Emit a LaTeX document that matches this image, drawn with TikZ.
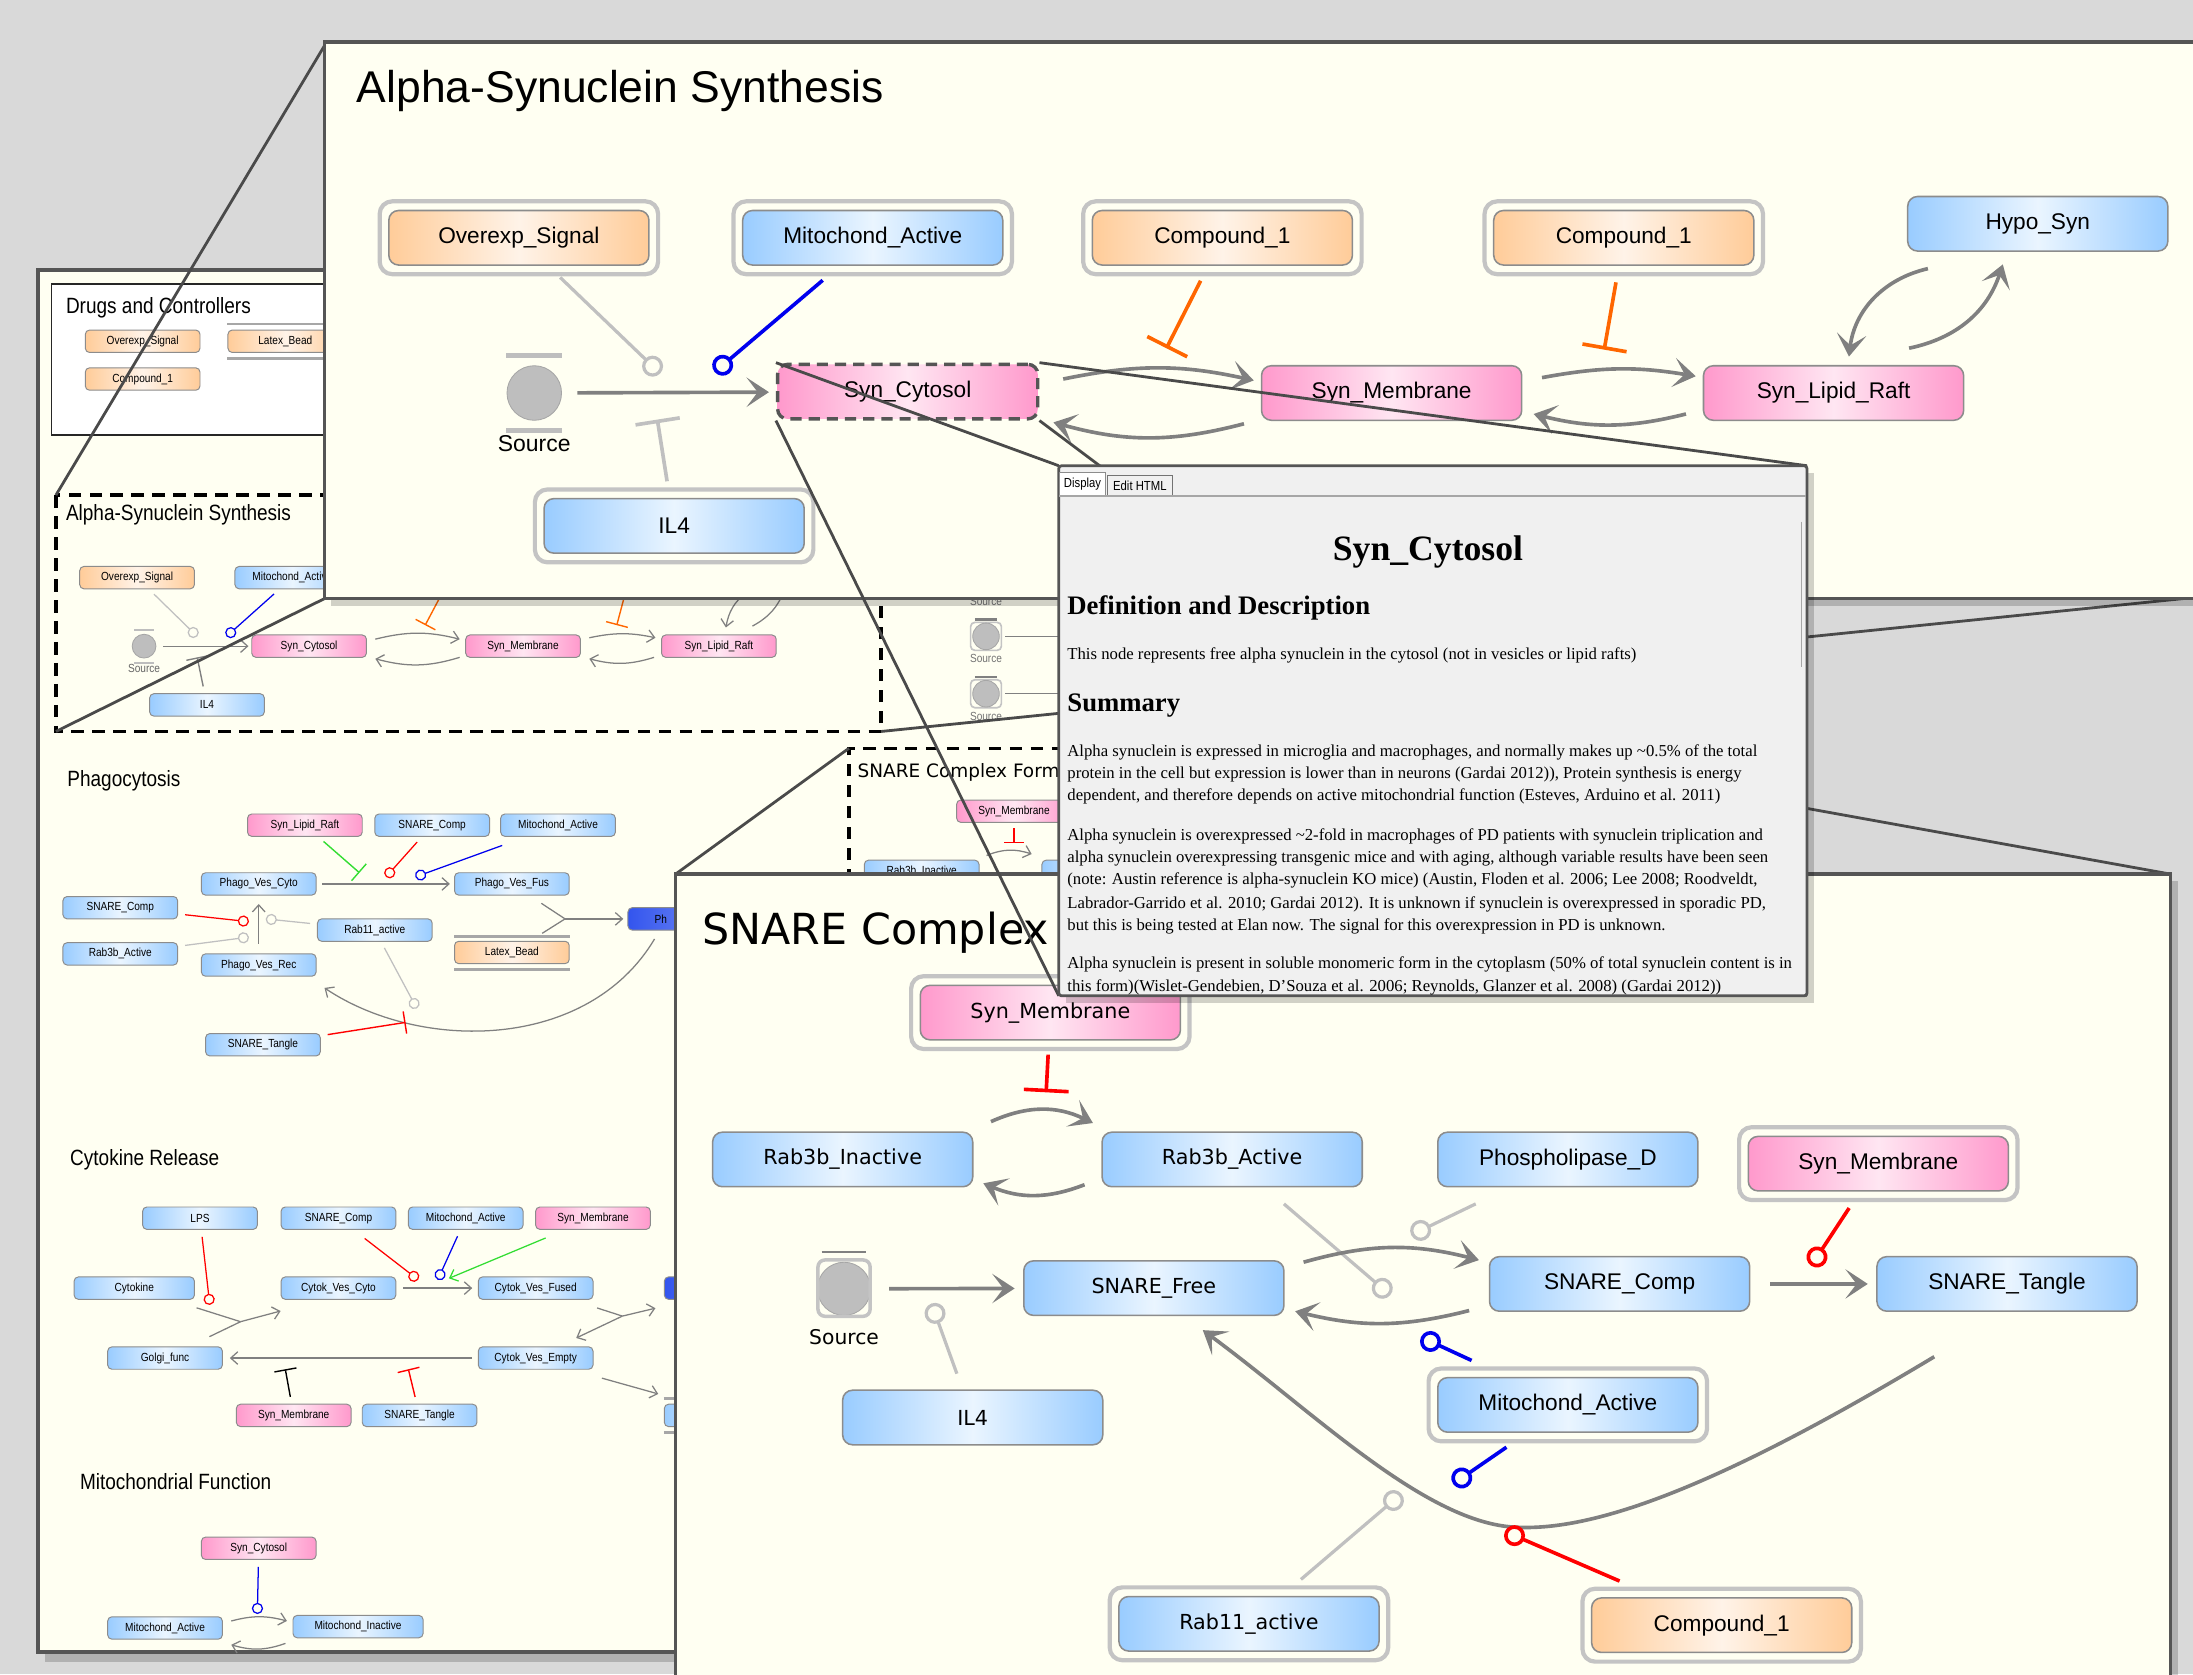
\documentclass[tikz,border=0pt]{standalone}
\usepackage{fontspec}
\setmainfont{Liberation Sans}
\newfontfamily\vfont{DejaVu Sans}
\newfontfamily\nfont{Liberation Sans}[FakeStretch=0.86]
\newfontfamily\rfont{Liberation Serif}
\usetikzlibrary{arrows.meta}

\definecolor{bgc}{HTML}{D9D9D9}
\definecolor{panelc}{HTML}{FFFFF2}
\definecolor{edgec}{HTML}{555555}
\definecolor{bluea}{HTML}{99CCFF}
\definecolor{blueb}{HTML}{EAF5FF}
\definecolor{pinka}{HTML}{FF99CC}
\definecolor{pinkb}{HTML}{FFE6F2}
\definecolor{orga}{HTML}{FFCC99}
\definecolor{orgb}{HTML}{FFF3E8}
\definecolor{darkb}{HTML}{3355EE}
\definecolor{spc}{HTML}{8C8C8C}
\definecolor{frc}{HTML}{C4C4C4}
\definecolor{rxc}{HTML}{808080}
\definecolor{modc}{HTML}{C0C0C0}
\definecolor{inhc}{HTML}{FF6600}
\definecolor{modb}{HTML}{0000EE}
\definecolor{modr}{HTML}{FF0000}
\definecolor{modg}{HTML}{33DD33}
\definecolor{srcc}{HTML}{BEBEBE}
\definecolor{popc}{HTML}{F0F0F0}
\definecolor{zlc}{HTML}{4A4A4A}

\tikzset{
  panel/.style={fill=panelc, draw=edgec, line width=2.5pt},
  shad/.style={fill=black, opacity=0.18},
  big/.style={draw=spc, line width=1.1pt, rounded corners=7pt, inner sep=0pt,
    minimum width=186pt, minimum height=39pt, font=\fontsize{16.2}{18}\selectfont},
  vbig/.style={big, font=\vfont\fontsize{14.8}{17}\selectfont},
  sm/.style={draw=spc, line width=0.7pt, rounded corners=3pt, inner sep=0pt,
    minimum width=82pt, minimum height=16pt, font=\nfont\fontsize{8.4}{9}\selectfont},
  bl/.style={left color=bluea, right color=bluea, middle color=blueb},
  pk/.style={left color=pinka, right color=pinka, middle color=pinkb},
  og/.style={left color=orga, right color=orga, middle color=orgb},
  dk/.style={left color=darkb, right color=darkb!75, middle color=darkb!80!white},
  frm/.style={draw=frc, line width=3pt, rounded corners=9pt},
  barl/.style={draw=frc!85!black, line width=2pt},
  ttl/.style={anchor=base west, inner sep=0pt, font=\nfont\fontsize{15.8}{18}\selectfont},
  rx/.style={draw=rxc, line width=2.6pt, -{Stealth[length=16pt, width=21pt, inset=8pt]}},
  srx/.style={draw=rxc, line width=0.9pt, -{Straight Barb[length=5pt, width=9pt]}},
  sln/.style={draw=rxc, line width=0.9pt},
  mod/.style={line width=2.3pt, shorten <=12pt, -{Circle[open, length=15pt, width=15pt]}},
  inh/.style={line width=2.6pt, shorten <=12pt, -{Bar[width=32pt]}},
  smod/.style={line width=0.9pt, shorten <=5pt, -{Circle[open, length=8pt, width=8pt]}},
  sinh/.style={line width=1pt, shorten <=5pt, -{Bar[width=16pt]}},
  zl/.style={draw=zlc, line width=2pt},
  srcn/.style={circle, fill=srcc, draw=black!35, line width=0.6pt, inner sep=0pt},
  lbl/.style={inner sep=0pt},
  ptxt/.style={anchor=mid west, inner sep=0pt, font=\rfont\fontsize{11.95}{13}\selectfont},
  phd/.style={anchor=mid west, inner sep=0pt, font=\rfont\bfseries\fontsize{19.1}{22}\selectfont},
}

\begin{document}
\begin{tikzpicture}[x=1pt, y=-1pt]
\useasboundingbox (0,0) rectangle (1568,1197);
\fill[bgc] (0,0) rectangle (1568,1197);

% back panel: the whole small map
\fill[shad] (32,198) rectangle (1205,1188);
\draw[panel] (27,193) rectangle (1200,1181);

\draw[fill=white, draw=black!85, line width=1pt] (37,203) rectangle (240,311);
\node[ttl] (dtl) at (47,224) {Drugs and Controllers};
\node[sm,og] (dov) at (102,244) {Overexp\_Signal};
\node[sm,og] (dlx) at (204,244) {Latex\_Bead};
\node[sm,og] (dcp) at (102,271) {Compound\_1};
\draw[barl] ([shift={(0,-4)}]dlx.north west) -- ([shift={(0,-4)}]dlx.north east);
\draw[barl] ([shift={(0,4)}]dlx.south west) -- ([shift={(0,4)}]dlx.south east);

% small alpha-synuclein map
\draw[black, line width=2.5pt, dash pattern=on 9pt off 6pt] (40,354) rectangle (630,523);
\node[ttl] (atl) at (47,372) {Alpha-Synuclein Synthesis};
\node[sm,og] (aov) at (98,413) {Overexp\_Signal};
\node[sm,bl] (ami) at (209,413) {Mitochond\_Active};
\node[sm,og] (ac1) at (322,413) {};
\node[sm,og] (ac2) at (450,413) {};
\node[sm,bl] (ahy) at (581,409) {};
\node[sm,pk] (acy) at (221,462) {Syn\_Cytosol};
\node[sm,pk] (ame) at (374,462) {Syn\_Membrane};
\node[sm,pk] (ali) at (514,462) {Syn\_Lipid\_Raft};
\node[sm,bl] (ail) at (148,504) {IL4};
\node[srcn, minimum size=17pt] (asr) at (103,462) {};
\draw[draw=srcc, line width=1.5pt] ([shift={(-7,-3)}]asr.north) -- ([shift={(7,-3)}]asr.north);
\draw[draw=srcc, line width=1.5pt] ([shift={(-7,3)}]asr.south) -- ([shift={(7,3)}]asr.south);
\node[lbl, font=\nfont\fontsize{8.4}{9}\selectfont, text=black!60] (asl) at (103,478) {Source};
\coordinate (am1) at (141,455);
\coordinate (am2) at (162,455);
\coordinate (am3) at (141,470);
\coordinate (at1) at (304,447);
\coordinate (at2) at (441,447);
\draw[smod, draw=modc] (aov) -- (am1);
\draw[smod, draw=modb] (ami) -- (am2);
\draw[sinh, draw=rxc] (ail) -- (am3);
\draw[sinh, draw=inhc] (ac1) -- (at1);
\draw[sinh, draw=inhc] (ac2) -- (at2);
\draw[srx, shorten <=5pt, shorten >=2pt] (asr) -- (acy);
\draw[srx] ([shift={(6,-5)}]acy.east) to[bend left=14] ([shift={(-4,-5)}]ame.west);
\draw[srx] ([shift={(-4,8)}]ame.west) to[bend left=16] ([shift={(6,9)}]acy.east);
\draw[srx] ([shift={(6,-6)}]ame.east) to[bend left=12] ([shift={(-4,-6)}]ali.west);
\draw[srx] ([shift={(-5,8)}]ali.west) to[bend left=16] ([shift={(6,9)}]ame.east);
\draw[srx] ([shift={(-6,6)}]ahy.south west) to[bend right=20] ([shift={(5,-5)}]ali.north);
\draw[srx] ([shift={(24,-6)}]ali.north) to[bend right=20] ([shift={(-20,4)}]ahy.south);

% phagocytosis
\node[ttl] (ptl) at (48,562) {Phagocytosis};
\node[sm,pk] (pli) at (218,590) {Syn\_Lipid\_Raft};
\node[sm,bl] (psc) at (309,590) {SNARE\_Comp};
\node[sm,bl] (pmi) at (399,590) {Mitochond\_Active};
\node[sm,bl] (pvc) at (185,632) {Phago\_Ves\_Cyto};
\node[sm,bl] (pvf) at (366,632) {Phago\_Ves\_Fus};
\node[sm,bl] (psk) at (86,649) {SNARE\_Comp};
\node[sm,bl] (prb) at (86,682) {Rab3b\_Active};
\node[sm,bl] (pra) at (268,665) {Rab11\_active};
\node[sm,bl] (pvr) at (185,690) {Phago\_Ves\_Rec};
\node[sm,og] (plx) at (366,681) {Latex\_Bead};
\node[sm,dk, text width=82pt, align=left] (pph) at (490,657) {\hspace*{19pt}Ph};
\node[sm,bl] (pst) at (188,747) {SNARE\_Tangle};
\draw[barl] ([shift={(0,-3)}]plx.north west) -- ([shift={(0,-3)}]plx.north east);
\draw[barl] ([shift={(0,4)}]plx.south west) -- ([shift={(0,4)}]plx.south east);
\coordinate (pm1) at (257,624);
\coordinate (pm2) at (276,627);
\coordinate (pm3) at (297,627);
\coordinate (pm4) at (178,659);
\coordinate (pm5) at (178,670);
\coordinate (pm6) at (190,657);
\coordinate (pm7) at (298,721);
\coordinate (pm8) at (290,731);
\coordinate (pj) at (404,657);
\draw[srx, shorten <=4pt, shorten >=3pt] (pvc) -- (pvf);
\draw[sinh, draw=modg] (pli) -- (pm1);
\draw[smod, draw=modr] (psc) -- (pm2);
\draw[smod, draw=modb, shorten <=18pt] (pmi) -- (pm3);
\draw[srx, shorten <=7pt, shorten >=6pt] (pvr) -- (pvc);
\draw[smod, draw=modr] (psk) -- (pm4);
\draw[smod, draw=modc] (prb) -- (pm5);
\draw[smod, draw=modc] (pra) -- (pm6);
\draw[sln, shorten <=10pt] (pvf) -- (pj);
\draw[sln, shorten <=10pt] (plx) -- (pj);
\draw[srx, shorten >=3pt] (pj) -- (pph);
\draw[srx] ([shift={(-22,6)}]pph.south) .. controls (420,752) and (300,752) .. ([shift={(47,8)}]pvr.south);
\draw[smod, draw=modc] (pra) -- (pm7);
\draw[sinh, draw=modr] (pst) -- (pm8);

% cytokine release
\node[ttl] (ctl) at (50,833) {Cytokine Release};
\node[sm,bl] (clp) at (143,871) {LPS};
\node[sm,bl] (csc) at (242,871) {SNARE\_Comp};
\node[sm,bl] (cmi) at (333,871) {Mitochond\_Active};
\node[sm,pk] (csm) at (424,871) {Syn\_Membrane};
\node[sm,bl, minimum width=86pt] (cck) at (96,921) {Cytokine};
\node[sm,bl] (cvc) at (242,921) {Cytok\_Ves\_Cyto};
\node[sm,bl] (cvf) at (383,921) {Cytok\_Ves\_Fused};
\node[sm,dk] (cd1) at (516,921) {};
\node[sm,bl] (cgo) at (118,971) {Golgi\_func};
\node[sm,bl] (cve) at (383,971) {Cytok\_Ves\_Empty};
\node[sm,pk] (csn) at (210,1012) {Syn\_Membrane};
\node[sm,bl] (cst) at (300,1012) {SNARE\_Tangle};
\node[sm,bl] (cd2) at (516,1012) {};
\draw[barl] ([shift={(0,-4)}]cd2.north west) -- ([shift={(0,-4)}]cd2.north east);
\draw[barl] ([shift={(0,4)}]cd2.south west) -- ([shift={(0,4)}]cd2.south east);
\coordinate (cm1) at (299,915);
\coordinate (cm2) at (313,915);
\coordinate (cm3) at (321,914);
\coordinate (cm4) at (150,933);
\coordinate (cj1) at (172,945);
\coordinate (cj2) at (445,941);
\coordinate (ct1) at (204,979);
\coordinate (ct2) at (292,979);
\draw[srx, shorten <=5pt, shorten >=4pt] (cvc) -- (cvf);
\draw[smod, draw=modr, shorten <=10pt] (csc) -- (cm1);
\draw[smod, draw=modb] (cmi) -- (cm2);
\draw[srx, draw=modg, shorten <=15pt] (csm) -- (cm3);
\draw[smod, draw=modr] (clp) -- (cm4);
\draw[sln, shorten <=19pt] (cck) -- (cj1);
\draw[sln, shorten <=16pt] (cgo) -- (cj1);
\draw[srx] (cj1) -- ([shift={(0,8)}]cvc.south west);
\draw[srx, shorten <=4pt, shorten >=5pt] (cve) -- (cgo);
\draw[sinh, draw=black] (csn) -- (ct1);
\draw[sinh, draw=modr] (cst) -- (ct2);
\draw[sln, shorten <=19pt] (cvf) -- (cj2);
\draw[srx] (cj2) -- ([shift={(-6,6)}]cd1.south west);
\draw[srx] (cj2) -- ([shift={(29,-6)}]cve.north);
\draw[srx] ([shift={(6,6)}]cve.south east) -- ([shift={(-4,-7)}]cd2.north west);

% mitochondrial function
\node[ttl] (mtl) at (57,1065) {Mitochondrial Function};
\node[sm,pk] (msc) at (185,1107) {Syn\_Cytosol};
\node[sm,bl] (mma) at (118,1164) {Mitochond\_Active};
\node[sm,bl, minimum width=93pt] (mmi) at (256,1163) {Mitochond\_Inactive};
\coordinate (mm1) at (184,1154);
\draw[smod, draw=modb] (msc) -- (mm1);
\draw[srx] ([shift={(6,-5)}]mma.east) to[bend left=15] ([shift={(-4,-4)}]mmi.west);
\draw[srx] ([shift={(-5,12)}]mmi.west) to[bend left=18] ([shift={(6,12)}]mma.east);

% middle of the small map
\node[srcn, minimum size=19pt] (xs0) at (705,413) {};
\node[lbl, font=\nfont\fontsize{8.4}{9}\selectfont, text=black!55] (xl0) at (705,430) {Source};
\foreach \s/\yy in {xs1/455, xs2/496}{
  \draw[draw=frc, line width=1.2pt, rounded corners=3pt] (694,\yy-10) rectangle (716,\yy+10);
  \node[srcn, minimum size=19pt] (\s) at (705,\yy) {};
  \draw[draw=rxc, line width=2pt] (697,\yy-12) -- (713,\yy-12);
  \node[lbl, font=\nfont\fontsize{8.4}{9}\selectfont, text=black!55] at (705,\yy+16) {Source};
}
\coordinate (xt1) at (800,455);
\coordinate (xt2) at (800,496);
\draw[srx, shorten <=4pt] (xs1) -- (xt1);
\draw[srx, shorten <=4pt] (xs2) -- (xt2);
\draw[black, line width=2.5pt, dash pattern=on 9pt off 6pt] (607,660) -- (607,535) -- (1054,535);
\node[anchor=base west, inner sep=0pt, font=\vfont\fontsize{13.2}{15}\selectfont] (xtl) at (613,556) {SNARE Complex Form};
\node[sm,pk] (xsm) at (725,580) {Syn\_Membrane};
\node[sm,bl] (xri) at (659,623) {Rab3b\_Inactive};
\node[sm,bl] (xra) at (786,623) {};
\coordinate (xm1) at (725,603);
\draw[line width=1pt, shorten <=4pt, draw=modr, -{Bar[width=14pt]}] (xsm) -- (xm1);
\draw[srx] ([shift={(5,-3)}]xri.north east) to[bend left=20] ([shift={(-7,-4)}]xra.north west);

% lines from the small map to the enlarged panels
\coordinate (z1) at (40,354);
\coordinate (z2) at (40,523);
\coordinate (z3) at (630,523);
\coordinate (z4) at (607,535);
\coordinate (z5) at (1054,535);
\coordinate (w1) at (233,31);
\coordinate (w2) at (232,428);
\coordinate (w3) at (1600,424);
\coordinate (w4) at (483,625);
\coordinate (w5) at (1552,625);
\draw[zl] (z1) -- (w1);
\draw[zl] (z2) -- (w2);
\draw[zl] (z3) -- (w3);
\draw[zl] (z4) -- (w4);
\draw[zl] (z5) -- (w5);

% enlarged alpha-synuclein synthesis panel
\fill[shad] (237,35) rectangle (1605,433);
\draw[panel] (232,30) rectangle (1600,428);
\node[anchor=base west, inner sep=0pt, font=\fontsize{31.8}{36}\selectfont] (ttl) at (255,73) {Alpha-Synuclein Synthesis};
\node[big,og] (tov) at (371,170) {Overexp\_Signal};
\node[big,bl] (tmi) at (624,170) {Mitochond\_Active};
\node[big,og] (tc1) at (874,170) {Compound\_1};
\node[big,og] (tc2) at (1161,170) {Compound\_1};
\node[big,bl] (thy) at (1457,160) {Hypo\_Syn};
\node[big,pk, draw=edgec, line width=2.4pt, dash pattern=on 8pt off 5pt] (tcy) at (649,280) {Syn\_Cytosol};
\node[big,pk] (tme) at (995,281) {Syn\_Membrane};
\node[big,pk] (tli) at (1311,281) {Syn\_Lipid\_Raft};
\node[big,bl] (til) at (482,376) {IL4};
\node[srcn, minimum size=39pt] (tsr) at (382,281) {};
\node[lbl, font=\fontsize{16.4}{18}\selectfont] (tsl) at (382,317) {Source};
\draw[draw=srcc, line width=3pt] ([shift={(-20,-7)}]tsr.north) -- ([shift={(20,-7)}]tsr.north);
\draw[draw=srcc, line width=3pt] ([shift={(-20,7)}]tsr.south) -- ([shift={(20,7)}]tsr.south);
\foreach \n in {tov,tmi,tc1,tc2,til}
  \draw[frm] ([shift={(-6,-6)}]\n.north west) rectangle ([shift={(6,6)}]\n.south east);
\coordinate (tm1) at (472,267);
\coordinate (tm2) at (511,266);
\coordinate (tt1) at (470,300);
\coordinate (tt2) at (834,249);
\coordinate (tt3) at (1147,250);
\draw[rx, shorten <=11pt, shorten >=5pt] (tsr) -- (tcy);
\draw[mod, draw=modc] (tov) -- (tm1);
\draw[mod, draw=modb, line width=2.6pt, shorten <=16pt] (tmi) -- (tm2);
\draw[inh, draw=modc] (til) -- (tt1);
\draw[inh, draw=inhc] (tc1) -- (tt2);
\draw[inh, draw=inhc] (tc2) -- (tt3);
\draw[rx] ([shift={(17,-9)}]tcy.east) to[bend left=12] ([shift={(-5,-9)}]tme.west);
\draw[rx] ([shift={(-12,22)}]tme.west) to[bend left=15] ([shift={(10,22)}]tcy.east);
\draw[rx] ([shift={(14,-11)}]tme.east) to[bend left=10] ([shift={(-5,-12)}]tli.west);
\draw[rx] ([shift={(-12,15)}]tli.west) to[bend left=14] ([shift={(8,15)}]tme.east);
\draw[rx] ([shift={(15,12)}]thy.south west) to[bend right=35] ([shift={(11,-6)}]tli.north);
\draw[rx] ([shift={(54,-12)}]tli.north) to[bend right=30] ([shift={(-25,9)}]thy.south);

% enlarged SNARE complex panel
\fill[shad] (488,630) rectangle (1557,1210);
\draw[panel] (483,625) rectangle (1552,1220);
\node[anchor=base west, inner sep=0pt, font=\vfont\fontsize{30.6}{35}\selectfont] (stl) at (502,675) {SNARE Complex};
\node[vbig,pk] (ssm) at (751,724) {Syn\_Membrane};
\node[vbig,bl] (sri) at (602.5,829) {Rab3b\_Inactive};
\node[vbig,bl] (sra) at (881,829) {Rab3b\_Active};
\node[big,bl] (spl) at (1121,829) {Phospholipase\_D};
\node[big,pk] (ssn) at (1343,832) {Syn\_Membrane};
\node[vbig,bl] (sfr) at (825,921) {SNARE\_Free};
\node[big,bl] (scp) at (1158,918) {SNARE\_Comp};
\node[big,bl] (stg) at (1435,918) {SNARE\_Tangle};
\node[big,bl] (smi) at (1121,1004.5) {Mitochond\_Active};
\node[vbig,bl] (sil) at (695.5,1013.5) {IL4};
\node[vbig,bl] (sr11) at (893,1161) {Rab11\_active};
\node[big,og] (sc1) at (1231,1162) {Compound\_1};
\node[srcn, minimum size=38pt] (ssr) at (603.5,921.5) {};
\node[lbl, font=\vfont\fontsize{14.5}{16}\selectfont] (ssl) at (603.5,956) {Source};
\draw[frm, line width=2.5pt, rounded corners=5pt] ([shift={(-5,-7)}]ssr.north west) rectangle ([shift={(5,6)}]ssr.south east);
\draw[draw=rxc, line width=2pt] ([shift={(-16,-7)}]ssr.north) -- ([shift={(16,-7)}]ssr.north);
\foreach \n in {ssm,ssn,smi,sr11,sc1}
  \draw[frm] ([shift={(-6,-6)}]\n.north west) rectangle ([shift={(6,6)}]\n.south east);
\coordinate (st1) at (748,781);
\coordinate (sm1) at (666,932);
\coordinate (sm2) at (994,926);
\coordinate (sm3) at (1009,883);
\coordinate (sm4) at (1016,956);
\coordinate (sm5) at (1295,905);
\coordinate (sm6) at (1076,1095);
\coordinate (sm7) at (1039,1061);
\coordinate (sm8) at (1002,1068);
\draw[inh, draw=modr, shorten <=10pt] (ssm) -- (st1);
\draw[rx] ([shift={(12.5,-7)}]sri.north east) to[bend left=25] ([shift={(-6,-6)}]sra.north west);
\draw[rx] ([shift={(-12,-2)}]sra.south west) to[bend left=22] ([shift={(7,-3)}]sri.south east);
\draw[rx, shorten <=13pt, shorten >=6pt] (ssr) -- (sfr);
\draw[mod, draw=modc] (sil) -- (sm1);
\draw[mod, draw=modc, shorten <=18pt] (sra) -- (sm2);
\draw[mod, draw=modc, shorten <=27pt] (spl) -- (sm3);
\draw[rx] ([shift={(13.5,1.5)}]sfr.north east) to[bend left=15] ([shift={(-7,3)}]scp.north west);
\draw[rx] ([shift={(-14,-1)}]scp.south west) to[bend left=14] ([shift={(7.5,-3.5)}]sfr.south east);
\draw[mod, draw=modb, line width=2.6pt, shorten <=28pt] (smi) -- (sm4);
\draw[mod, draw=modr, line width=2.6pt, shorten <=14pt] (ssn) -- (sm5);
\draw[rx, shorten <=14pt, shorten >=6pt] (scp) -- (stg);
\draw[rx] ([shift={(-52,32)}]stg.south) .. controls (1250,1050) and (1150,1095) .. (1085,1092)
  .. controls (1020,1090) and (940,1010) .. ([shift={(35,10)}]sfr.south);
\draw[mod, draw=modr, line width=2.6pt, shorten <=29pt] (sc1) -- (sm6);
\draw[mod, draw=modb, line width=2.6pt, shorten <=18pt] (smi) -- (sm7);
\draw[mod, draw=modc, shorten <=18pt] (sr11) -- (sm8);

% lines from Syn_Cytosol to its description window
\coordinate (pc1) at (757,333);
\coordinate (pc2) at (1292,333);
\coordinate (pc3) at (1292,712);
\coordinate (pc4) at (757,712);
\draw[zl] (tcy.north west) -- (pc1);
\draw[zl] (tcy.north east) -- (pc2);
\draw[zl] (tcy.south east) -- (pc3);
\draw[zl] (tcy.south west) -- (pc4);

% description window
\fill[shad] (762,338) rectangle (1297,717);
\draw[fill=popc, draw=edgec, line width=2pt, rounded corners=2pt] (pc1) rectangle (pc3);
\node[draw=black!45, fill=white, line width=0.6pt, minimum width=33pt, minimum height=16pt, inner sep=0pt,
  font=\nfont\fontsize{9.4}{10}\selectfont] (pta) at (774,346) {Display};
\node[draw=black!55, fill=black!6, line width=0.6pt, minimum width=46pt, minimum height=14pt, inner sep=0pt,
  font=\nfont\fontsize{9.4}{10}\selectfont] (ptb) at (815,347) {Edit HTML};
\draw[black!35, line width=1pt] (757,354.5) -- (1291,354.5);
\draw[black!35, line width=1pt] (1288,373) -- (1288,477);
\begin{scope}
\clip (758,356) rectangle (1291,711);
\node[inner sep=0pt, font=\rfont\bfseries\fontsize{25.5}{28}\selectfont] (pti) at (1021,395) {Syn\_Cytosol};
\node[phd] (ph1) at (763,437) {Definition and Description};
\node[ptxt] (pl0) at (763,469) {This node represents free alpha synuclein in the cytosol (not in vesicles or lipid rafts)};
\node[phd] (ph2) at (763,506) {Summary};
\node[ptxt] (pl1) at (763,538) {Alpha synuclein is expressed in microglia and macrophages, and normally makes up \textasciitilde0.5\% of the total};
\node[ptxt] (pl2) at (763,554) {protein in the cell but expression is lower than in neurons (Gardai 2012)), Protein synthesis is energy};
\node[ptxt] (pl3) at (763,570) {dependent, and therefore depends on active mitochondrial function (Esteves, Arduino et al. 2011)};
\node[ptxt] (pl4) at (763,598) {Alpha synuclein is overexpressed \textasciitilde2-fold in macrophages of PD patients with synuclein triplication and};
\node[ptxt] (pl5) at (763,614) {alpha synuclein overexpressing transgenic mice and with aging, although variable results have been seen};
\node[ptxt] (pl6) at (763,630) {(note: Austin reference is alpha-synuclein KO mice) (Austin, Floden et al. 2006; Lee 2008; Roodveldt,};
\node[ptxt] (pl7) at (763,647) {Labrador-Garrido et al. 2010; Gardai 2012). It is unknown if synuclein is overexpressed in sporadic PD,};
\node[ptxt] (pl8) at (763,663) {but this is being tested at Elan now. The signal for this overexpression in PD is unknown.};
\node[ptxt] (pl9) at (763,690) {Alpha synuclein is present in soluble monomeric form in the cytoplasm (50\% of total synuclein content is in};
\node[ptxt] (pl10) at (763,706) {this form)(Wislet-Gendebien, D’Souza et al. 2006; Reynolds, Glanzer et al. 2008) (Gardai 2012))};
\end{scope}
\end{tikzpicture}
\end{document}
